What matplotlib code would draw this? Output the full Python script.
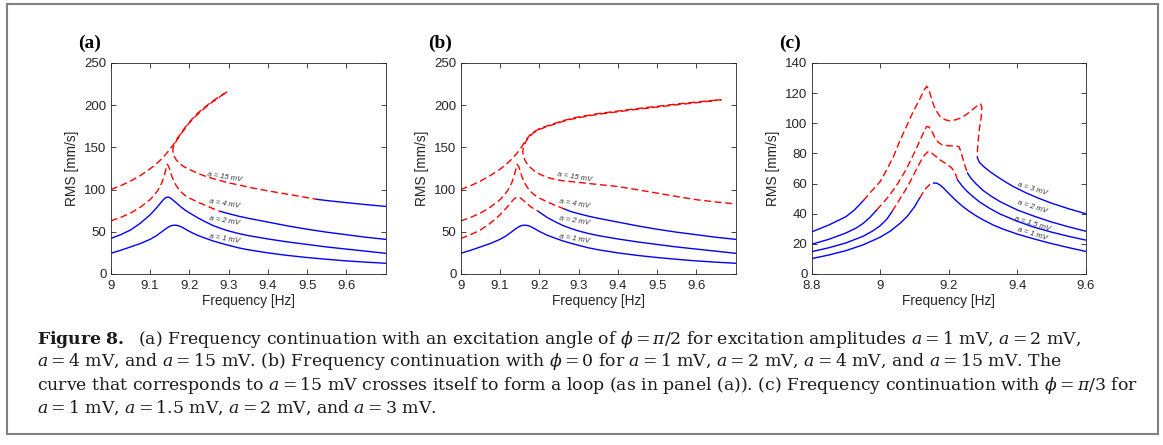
import matplotlib
matplotlib.use("Agg")
import matplotlib.pyplot as plt
from matplotlib.patches import Rectangle

plt.rcParams['font.family'] = ['Liberation Sans', 'DejaVu Sans']
plt.rcParams['mathtext.fontset'] = 'dejavuserif'

# ---- panel (a): phi = pi/2 ----
a1_f = [9.0, 9.025, 9.05, 9.075, 9.1, 9.115, 9.13, 9.14, 9.15, 9.158, 9.166, 9.175, 9.185, 9.2,
        9.22, 9.24, 9.26, 9.28, 9.3, 9.325, 9.35, 9.4, 9.45, 9.5, 9.55, 9.6, 9.65, 9.7]
a1_v = [24.5, 28, 32, 36, 41, 45, 50, 53.5, 56.5, 57.7, 57.8, 56.8, 54.5, 50.5,
        46, 42.5, 39.2, 36.5, 34, 31, 28.7, 25, 22, 19.5, 17.4, 15.5, 14, 12.7]

a2_f = [9.0, 9.025, 9.05, 9.075, 9.1, 9.115, 9.125, 9.133, 9.14, 9.146, 9.152, 9.16, 9.17, 9.18,
        9.19, 9.2, 9.22, 9.24, 9.26, 9.28, 9.3, 9.325, 9.35, 9.4, 9.45, 9.5, 9.55, 9.6, 9.65, 9.7]
a2_v = [42, 46.5, 52, 60, 70, 77.5, 83, 87.5, 90.5, 91.2, 90, 87, 83, 79,
        75.5, 72.5, 67, 62, 57.5, 54, 51, 48, 45.5, 41.5, 38, 35, 32, 29.5, 27, 24.5]

a4_red_f = [9.0, 9.025, 9.05, 9.075, 9.1, 9.11, 9.12, 9.13, 9.136, 9.141, 9.144, 9.148, 9.152,
            9.157, 9.165, 9.175, 9.188, 9.2, 9.22, 9.24, 9.26, 9.28]
a4_red_v = [62.8, 67, 72, 79, 88, 93, 99, 108, 116, 125, 130, 127, 121,
            114, 106, 99, 93.5, 90, 85.5, 81.5, 77.5, 74]
a4_blue_f = [9.28, 9.3, 9.325, 9.35, 9.4, 9.45, 9.5, 9.55, 9.6, 9.65, 9.7]
a4_blue_v = [74, 71.5, 68.5, 66, 61.5, 57, 53, 49.5, 46.5, 43.5, 41]

a15_red_f = [9.0, 9.025, 9.05, 9.075, 9.1, 9.115, 9.13, 9.145, 9.16, 9.175, 9.19, 9.205, 9.22,
             9.235, 9.25, 9.265, 9.28, 9.297,
             9.29, 9.275, 9.258, 9.243, 9.228, 9.213, 9.198, 9.183, 9.17, 9.162, 9.158, 9.159,
             9.162, 9.167, 9.175, 9.185, 9.2, 9.22, 9.24, 9.26, 9.28, 9.3, 9.33, 9.36, 9.4,
             9.45, 9.5, 9.524]
a15_red_v = [100, 104.5, 110, 116.5, 124.5, 130, 136.5, 144.5, 153.5, 164, 174, 182.5, 190,
             196, 201.5, 206.5, 211, 216,
             214, 209, 203.5, 198, 192, 185.5, 178, 168.5, 160, 153.5, 148, 143,
             139, 135, 131, 127.5, 124, 119.5, 116, 113, 110.5, 108, 105, 102, 98.5,
             94.5, 90.5, 88.5]
a15_blue_f = [9.524, 9.55, 9.6, 9.65, 9.7]
a15_blue_v = [88.5, 87, 84.5, 82.2, 80]

# ---- panel (b): phi = 0 ----
b1_f = a1_f          # the a = 1 mV curve reads the same as in panel (a)
b1_v = a1_v

b2_red_f = [9.0, 9.025, 9.05, 9.075, 9.1, 9.115, 9.125, 9.133, 9.14, 9.146, 9.152, 9.16, 9.17,
            9.18, 9.19, 9.198]
b2_red_v = [42, 46.5, 52, 60, 70, 77.5, 83, 87.5, 90.5, 91.2, 90, 87, 83,
            79, 76.5, 74]
b2_blue_f = [9.198, 9.22, 9.24, 9.26, 9.28, 9.3, 9.325, 9.35, 9.4, 9.45, 9.5, 9.55, 9.6, 9.65, 9.7]
b2_blue_v = [74, 67, 62, 57.5, 54, 51, 48, 45.5, 41.5, 38, 35, 32, 29.5, 27, 24.5]

b4_red_f = [9.0, 9.025, 9.05, 9.075, 9.1, 9.11, 9.12, 9.13, 9.136, 9.141, 9.144, 9.148, 9.152,
            9.157, 9.165, 9.175, 9.188, 9.2, 9.22, 9.24, 9.264]
b4_red_v = [62.8, 67, 72, 79, 88, 93, 99, 108, 116, 125, 130, 127, 121,
            114, 106, 99, 93.5, 90, 85.5, 81.5, 77]
b4_blue_f = [9.264, 9.28, 9.3, 9.325, 9.35, 9.4, 9.45, 9.5, 9.55, 9.6, 9.65, 9.7]
b4_blue_v = [77, 74, 71.5, 68.5, 66, 61.5, 57, 53, 49.5, 46.5, 43.5, 41]

b15_red_f = [9.0, 9.025, 9.05, 9.075, 9.1, 9.115, 9.13, 9.145, 9.155, 9.165, 9.175, 9.185, 9.2,
             9.22, 9.24, 9.26, 9.28, 9.3, 9.35, 9.4, 9.45, 9.5, 9.55, 9.6, 9.663,
             9.6, 9.55, 9.5, 9.45, 9.4, 9.35, 9.3, 9.28, 9.26, 9.24, 9.22, 9.2, 9.185, 9.175,
             9.166, 9.16, 9.158, 9.16, 9.165, 9.172, 9.185, 9.2, 9.22, 9.24, 9.26, 9.3, 9.35,
             9.4, 9.45, 9.5, 9.55, 9.6, 9.65, 9.7]
b15_red_v = [100, 104.5, 110, 116.5, 124, 129.5, 136, 144, 150.5, 158, 164, 168, 172,
             175.5, 178.5, 181.5, 184, 186, 190, 193, 196, 198.6, 201.3, 203.7, 206.5,
             202.9, 200.5, 197.8, 195.2, 192.2, 189.2, 185.2, 183.2, 180.7, 177.7, 174.7, 171.2, 167.2, 163,
             157, 151, 145, 139, 133.5, 128.5, 123, 118.5, 114.5, 112, 110.5, 108.5, 106,
             103.6, 99.8, 95.8, 91.8, 88, 85.3, 83]

# ---- panel (c): phi = pi/3 ----
c1_left_f = [8.8, 8.85, 8.9, 8.95, 9.0, 9.03, 9.06, 9.08, 9.1, 9.115]
c1_left_v = [10.2, 12.6, 15.5, 19.3, 24.4, 28.5, 34, 38.5, 44.5, 50.3]
c1_red_f = [9.115, 9.125, 9.135, 9.145, 9.156]
c1_red_v = [50.3, 54, 57.2, 59.4, 60.3]
c1_right_f = [9.156, 9.165, 9.175, 9.185, 9.2, 9.22, 9.24, 9.26, 9.28, 9.3, 9.33, 9.36, 9.4,
              9.45, 9.5, 9.55, 9.6]
c1_right_v = [60.3, 60.3, 59, 57, 53.5, 49, 45, 41.6, 38.6, 36, 32.5, 29.7, 26.5,
              23.2, 20.2, 17.5, 15]

c15_left_f = [8.8, 8.85, 8.9, 8.95, 8.98, 9.0, 9.02, 9.035]
c15_left_v = [14.8, 17.4, 20.6, 25, 28.8, 32, 36.5, 41.5]
c15_red_f = [9.035, 9.05, 9.065, 9.08, 9.095, 9.107, 9.12, 9.131, 9.141, 9.15, 9.16, 9.175, 9.19,
             9.204, 9.212, 9.219, 9.226]
c15_red_v = [41.5, 47, 52.5, 58, 64.5, 70, 75.5, 79.3, 81.3, 80.3, 78.5, 75.7, 73.5,
             71.3, 69.5, 66.9, 62.4]
c15_right_f = [9.226, 9.24, 9.253, 9.27, 9.292, 9.32, 9.35, 9.4, 9.45, 9.5, 9.55, 9.6]
c15_right_v = [62.4, 58.2, 55, 51.5, 47.5, 43.5, 39.8, 35, 31, 27.8, 25, 22.5]

c2_left_f = [8.8, 8.85, 8.9, 8.93, 8.95, 8.97, 8.99]
c2_left_v = [19.7, 23, 27.2, 30.5, 33.5, 37.5, 42.5]
c2_red_f = [8.99, 9.0, 9.025, 9.05, 9.075, 9.1, 9.117, 9.128, 9.136, 9.143, 9.15, 9.16, 9.17,
            9.18, 9.2, 9.22, 9.23, 9.236, 9.242, 9.248, 9.255]
c2_red_v = [42.5, 45, 51.5, 59.5, 69, 80.5, 89, 94.5, 97.9, 97.5, 95, 90.5, 87.3,
            85.8, 85, 85, 84.5, 81, 76, 71.5, 67]
c2_right_f = [9.255, 9.265, 9.28, 9.3, 9.325, 9.35, 9.4, 9.45, 9.5, 9.55, 9.6]
c2_right_v = [67, 63.5, 59.8, 55.5, 51.5, 48, 42.5, 38.3, 34.5, 31.3, 28.4]

c3_left_f = [8.8, 8.85, 8.9, 8.925, 8.951]
c3_left_v = [27.9, 32.5, 38, 42.5, 48.7]
c3_red_f = [8.951, 8.975, 9.0, 9.02, 9.039, 9.056, 9.073, 9.085, 9.097, 9.11, 9.122, 9.13, 9.136,
            9.141, 9.146, 9.151, 9.158, 9.166, 9.175, 9.19, 9.204, 9.22, 9.234, 9.25, 9.263,
            9.28, 9.292, 9.297, 9.295, 9.29, 9.286, 9.284, 9.284]
c3_red_v = [48.7, 55, 61.3, 69.5, 78, 87.5, 96, 102, 108, 113.5, 119, 122.5, 124.5,
            123, 119.5, 115.5, 111, 107.5, 104.5, 102.3, 101.6, 102.3, 103.4, 105.5, 107.8,
            111, 113, 111, 104, 96.8, 88, 82, 77]
c3_right_f = [9.284, 9.29, 9.302, 9.32, 9.341, 9.365, 9.389, 9.428, 9.46, 9.5, 9.55, 9.6]
c3_right_v = [77, 74, 71.3, 68, 64.7, 61.2, 58, 53.6, 50.5, 47, 43.3, 40]

ab_labels = ['a = 15 mV', 'a = 4 mV', 'a = 2 mV', 'a = 1 mV']
ab_label_y = [115, 83, 63, 42]
c_labels = ['a = 3 mV', 'a = 2 mV', 'a = 1.5 mV', 'a = 1 mV']
c_label_y = [56.3, 44.7, 33.2, 26.6]

ab_xticks = [9, 9.1, 9.2, 9.3, 9.4, 9.5, 9.6]
ab_xticklabels = ['9', '9.1', '9.2', '9.3', '9.4', '9.5', '9.6']
ab_yticks = [0, 50, 100, 150, 200, 250]
c_xticks = [8.8, 9, 9.2, 9.4, 9.6]
c_xticklabels = ['8.8', '9', '9.2', '9.4', '9.6']
c_yticks = [0, 20, 40, 60, 80, 100, 120, 140]

BLUE = '#0000ff'
RED = '#ff0000'
INK = '#262626'


def stable(ax, f, v):
    ax.plot(f, v, color=BLUE, lw=1.0, solid_joinstyle='round')


def unstable(ax, f, v):
    ax.plot(f, v, color=RED, lw=1.0, linestyle=(0, (5, 2.6)))


def style(ax, xlim, ylim, xticks, xticklabels, yticks, tag):
    ax.set_xlim(xlim)
    ax.set_ylim(ylim)
    ax.set_xticks(xticks)
    ax.set_xticklabels(xticklabels)
    ax.set_yticks(yticks)
    ax.tick_params(direction='in', length=3.5, width=0.6, top=True, right=True,
                   labelsize=9.5, colors=INK)
    ax.tick_params(axis='x', pad=4)
    ax.tick_params(axis='y', pad=3)
    for s in ax.spines.values():
        s.set_color(INK)
        s.set_linewidth(0.6)
    ax.set_xlabel('Frequency [Hz]', fontsize=9.9, color=INK, labelpad=2)
    ax.set_ylabel('RMS [mm/s]', fontsize=9.9, color=INK, labelpad=4)
    ax.text(-0.12, 1.095, tag, transform=ax.transAxes, fontsize=14, fontweight='bold',
            family='Liberation Serif', ha='left', va='center')


fig = plt.figure(figsize=(11.63, 4.45), dpi=100)

ax_a = fig.add_axes([0.0952, 0.3843, 0.2365, 0.4742])
stable(ax_a, a1_f, a1_v)
stable(ax_a, a2_f, a2_v)
unstable(ax_a, a4_red_f, a4_red_v)
stable(ax_a, a4_blue_f, a4_blue_v)
unstable(ax_a, a15_red_f, a15_red_v)
stable(ax_a, a15_blue_f, a15_blue_v)
style(ax_a, (9, 9.7), (0, 250), ab_xticks, ab_xticklabels, ab_yticks, '(a)')

ax_b = fig.add_axes([0.3961, 0.3843, 0.2365, 0.4742])
stable(ax_b, b1_f, b1_v)
unstable(ax_b, b2_red_f, b2_red_v)
stable(ax_b, b2_blue_f, b2_blue_v)
unstable(ax_b, b4_red_f, b4_red_v)
stable(ax_b, b4_blue_f, b4_blue_v)
unstable(ax_b, b15_red_f, b15_red_v)
style(ax_b, (9, 9.7), (0, 250), ab_xticks, ab_xticklabels, ab_yticks, '(b)')

for ax in (ax_a, ax_b):
    for lab, y in zip(ab_labels, ab_label_y):
        ax.text(9.29, y, lab, fontsize=5.5, style='italic', rotation=-9,
                ha='center', va='center', color='#333333')

ax_c = fig.add_axes([0.6979, 0.3843, 0.2356, 0.4742])
for lf, lv, rf, rv, qf, qv in [
        (c1_left_f, c1_left_v, c1_red_f, c1_red_v, c1_right_f, c1_right_v),
        (c15_left_f, c15_left_v, c15_red_f, c15_red_v, c15_right_f, c15_right_v),
        (c2_left_f, c2_left_v, c2_red_f, c2_red_v, c2_right_f, c2_right_v),
        (c3_left_f, c3_left_v, c3_red_f, c3_red_v, c3_right_f, c3_right_v)]:
    stable(ax_c, lf, lv)
    unstable(ax_c, rf, rv)
    stable(ax_c, qf, qv)
style(ax_c, (8.8, 9.6), (0, 140), c_xticks, c_xticklabels, c_yticks, '(c)')
for lab, y in zip(c_labels, c_label_y):
    ax_c.text(9.445, y, lab, fontsize=5.5, style='italic', rotation=-17,
              ha='center', va='center', color='#333333')

# caption
cap = [
    r'$\mathbf{Figure\ 8.}$  (a) Frequency continuation with an excitation angle of $\phi = \pi/2$ for excitation amplitudes $a = 1$ mV, $a = 2$ mV,',
    r'$a = 4$ mV, and $a = 15$ mV. (b) Frequency continuation with $\phi = 0$ for $a = 1$ mV, $a = 2$ mV, $a = 4$ mV, and $a = 15$ mV. The',
    r'curve that corresponds to $a = 15$ mV crosses itself to form a loop (as in panel (a)). (c) Frequency continuation with $\phi = \pi/3$ for',
    r'$a = 1$ mV, $a = 1.5$ mV, $a = 2$ mV, and $a = 3$ mV.',
]
for i, line in enumerate(cap):
    fig.text(37 / 1163, 1 - (339 + 23 * i) / 445, line, fontsize=12.4,
             family='DejaVu Serif', ha='left', va='center', color='#1a1a1a')

fig.add_artist(Rectangle((7 / 1163, 11 / 445), 1151 / 1163, 430 / 445,
                         transform=fig.transFigure, fill=False,
                         edgecolor='#808080', lw=1.5))

fig.savefig('out.png', dpi=100)
